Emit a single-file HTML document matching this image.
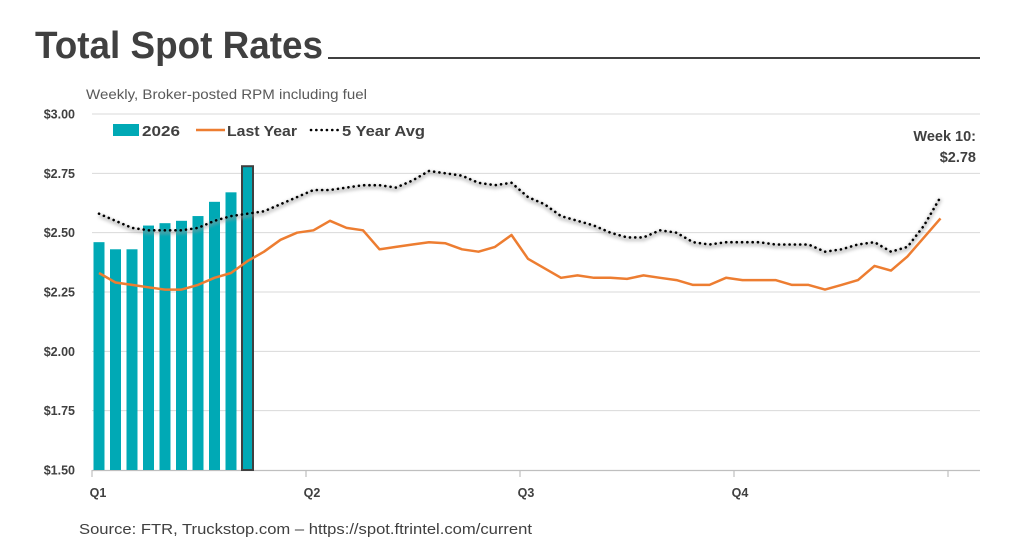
<!DOCTYPE html>
<html><head><meta charset="utf-8"><style>
html,body{margin:0;padding:0;background:#fff;}
svg{display:block;}
</style></head><body>
<svg id="c" width="1024" height="559" xmlns="http://www.w3.org/2000/svg" font-family="Liberation Sans, sans-serif">
<defs><filter id="sh" x="-5%" y="-50%" width="110%" height="200%"><feGaussianBlur stdDeviation="1.5"/></filter></defs>
<text x="35" y="58" font-size="38" font-weight="bold" fill="#404040" textLength="288" lengthAdjust="spacingAndGlyphs">Total Spot Rates</text>
<rect x="328" y="57" width="652" height="2" fill="#404040"/>
<text x="86" y="99" font-size="14" fill="#595959" textLength="281" lengthAdjust="spacingAndGlyphs">Weekly, Broker-posted RPM including fuel</text>
<g id="grid" stroke="#d9d9d9" stroke-width="1"></g>
<g font-size="12.5" font-weight="bold" fill="#404040" text-anchor="end" id="ylab"></g>
<line x1="92" y1="470.5" x2="980" y2="470.5" stroke="#bfbfbf" stroke-width="1.2"/>
<g stroke="#bfbfbf" stroke-width="1.2">
<line x1="92" y1="470" x2="92" y2="477"/><line x1="306" y1="470" x2="306" y2="477"/>
<line x1="520" y1="470" x2="520" y2="477"/><line x1="734" y1="470" x2="734" y2="477"/>
<line x1="948" y1="470" x2="948" y2="477"/></g>
<g font-size="12.5" font-weight="bold" fill="#404040" text-anchor="middle">
<text x="98" y="497">Q1</text><text x="312" y="497">Q2</text><text x="526" y="497">Q3</text><text x="740" y="497">Q4</text></g>
<g id="bars"></g>
<path id="avgsh" fill="none" stroke="#9a9a9a" stroke-width="4" opacity="0.5" filter="url(#sh)"/>
<path id="ly" fill="none" stroke="#ed7d31" stroke-width="2.5" stroke-linejoin="round"/>
<path id="avg" fill="none" stroke="#000" stroke-width="2.6" stroke-dasharray="0.1 5.2" stroke-linecap="round"/>
<rect x="113" y="124" width="26" height="12" fill="#00a9b5"/>
<text x="142" y="136" font-size="15" font-weight="bold" fill="#404040" textLength="38" lengthAdjust="spacingAndGlyphs">2026</text>
<line x1="196" y1="130" x2="225" y2="130" stroke="#ed7d31" stroke-width="2.5"/>
<text x="227" y="136" font-size="15" font-weight="bold" fill="#404040" textLength="70" lengthAdjust="spacingAndGlyphs">Last Year</text>
<line x1="311" y1="130" x2="339" y2="130" stroke="#000" stroke-width="2.6" stroke-dasharray="0.1 5.2" stroke-linecap="round"/>
<text x="342" y="136" font-size="15" font-weight="bold" fill="#404040" textLength="83" lengthAdjust="spacingAndGlyphs">5 Year Avg</text>
<text x="976" y="141" font-size="14.5" font-weight="bold" fill="#404040" text-anchor="end">Week 10:</text>
<text x="976" y="162" font-size="14.5" font-weight="bold" fill="#404040" text-anchor="end">$2.78</text>
<text x="79" y="534" font-size="14.5" fill="#404040" textLength="453" lengthAdjust="spacingAndGlyphs">Source: FTR, Truckstop.com – https://spot.ftrintel.com/current</text>
</svg>
<script>
var Y=function(v){return 470-(v-1.5)*237.33;};
var ns="http://www.w3.org/2000/svg";
var g=document.getElementById('grid'),yl=document.getElementById('ylab');
[1.75,2,2.25,2.5,2.75,3].forEach(function(v){var l=document.createElementNS(ns,'line');l.setAttribute('x1',92);l.setAttribute('x2',980);l.setAttribute('y1',Y(v));l.setAttribute('y2',Y(v));g.appendChild(l);});
[1.5,1.75,2,2.25,2.5,2.75,3].forEach(function(v){var t=document.createElementNS(ns,'text');t.setAttribute('x',75);t.setAttribute('y',Y(v)+4.5);t.textContent='$'+v.toFixed(2);yl.appendChild(t);});
var b=[2.46,2.43,2.43,2.53,2.54,2.55,2.57,2.63,2.67,2.78],bg=document.getElementById('bars');
b.forEach(function(v,i){var r=document.createElementNS(ns,'rect');var x=93.5+i*16.5;r.setAttribute('x',x);r.setAttribute('width',11);r.setAttribute('y',Y(v));r.setAttribute('height',470-Y(v));r.setAttribute('fill','#00a9b5');if(i==9){r.setAttribute('stroke','#404040');r.setAttribute('stroke-width','2');}bg.appendChild(r);});
var ly=[2.33,2.29,2.28,2.27,2.26,2.26,2.28,2.31,2.33,2.38,2.42,2.47,2.50,2.51,2.55,2.52,2.51,2.43,2.44,2.45,2.46,2.455,2.43,2.42,2.44,2.49,2.39,2.35,2.31,2.32,2.31,2.31,2.305,2.32,2.31,2.30,2.28,2.28,2.31,2.30,2.30,2.30,2.28,2.28,2.26,2.28,2.30,2.36,2.34,2.40,2.48,2.56];
var av=[2.58,2.55,2.52,2.51,2.51,2.51,2.52,2.55,2.57,2.58,2.59,2.62,2.65,2.68,2.68,2.69,2.70,2.70,2.69,2.72,2.76,2.75,2.74,2.71,2.70,2.71,2.65,2.62,2.57,2.55,2.53,2.50,2.48,2.48,2.51,2.50,2.46,2.45,2.46,2.46,2.46,2.45,2.45,2.45,2.42,2.43,2.45,2.46,2.42,2.44,2.53,2.65];
function P(a){return a.map(function(v,i){return (i?'L':'M')+(99+i*16.5).toFixed(1)+','+Y(v).toFixed(1);}).join('');}
document.getElementById('ly').setAttribute('d',P(ly));
document.getElementById('avg').setAttribute('d',P(av));
document.getElementById('avgsh').setAttribute('d',P(av.map(function(v){return v-0.008;})));
</script>
</body></html>
